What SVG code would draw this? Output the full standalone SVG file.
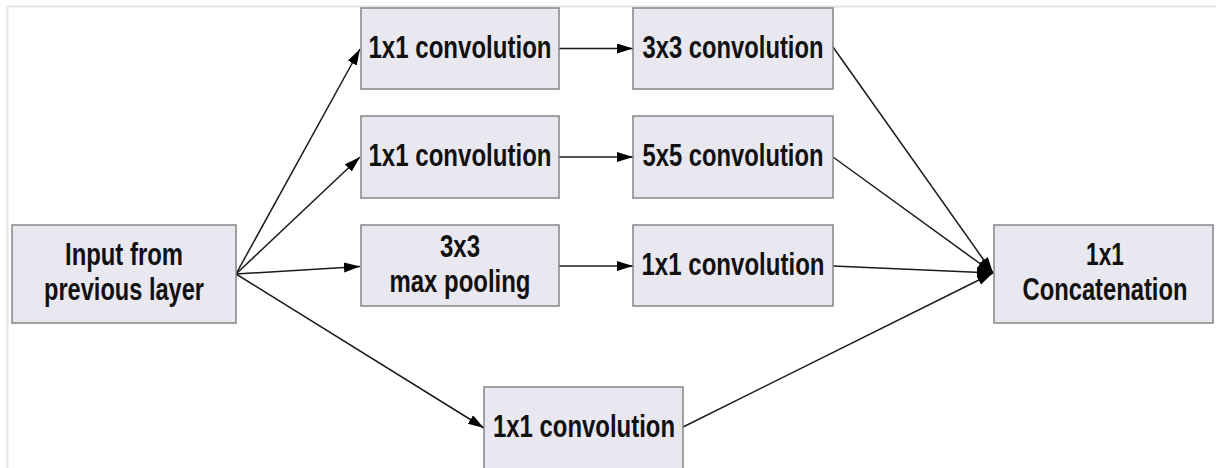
<svg xmlns="http://www.w3.org/2000/svg" width="1216" height="468" viewBox="0 0 1216 468">
<style>
.box{fill:#e9e8f0;stroke:#858585;stroke-width:1.5}
.t{font-family:"Liberation Sans",Arial,sans-serif;font-weight:bold;font-size:31px;fill:#111;text-anchor:middle}
.c{stroke:#1a1a1a;stroke-width:1.5;fill:none;marker-end:url(#ah)}
.frame{stroke:#e4e4e4;stroke-width:2;fill:none}
</style>
<defs>
<marker id="ah" markerUnits="userSpaceOnUse" markerWidth="18" markerHeight="12" refX="16" refY="5" orient="auto">
<path d="M0,0 L16,5 L0,10 z" fill="#000"/>
</marker>
</defs>
<rect width="1216" height="468" fill="#fff"/>
<path class="frame" d="M7.5,468 V6.5 H1216"/>
<g id="connectors">
<line class="c" x1="236" y1="274" x2="360" y2="49"/>
<line class="c" x1="236" y1="274" x2="360" y2="157"/>
<line class="c" x1="236" y1="274" x2="360" y2="266.5"/>
<line class="c" x1="236" y1="274" x2="484" y2="428"/>
<line class="c" x1="559" y1="48.5" x2="633" y2="48.5"/>
<line class="c" x1="559" y1="157" x2="633" y2="157"/>
<line class="c" x1="559" y1="266" x2="633" y2="266"/>
<line class="c" x1="833" y1="47" x2="993" y2="273"/>
<line class="c" x1="833" y1="157" x2="993" y2="273"/>
<line class="c" x1="833" y1="266" x2="993" y2="273"/>
<line class="c" x1="683" y1="427" x2="993" y2="273"/>
</g>
<g id="input">
<rect class="box" x="12" y="225" width="224" height="98"/>
<text class="t" x="124" y="265" textLength="118" lengthAdjust="spacingAndGlyphs">Input from</text>
<text class="t" x="124" y="300" textLength="160" lengthAdjust="spacingAndGlyphs">previous layer</text>
</g>
<g id="conv1x1_a">
<rect class="box" x="361" y="8" width="198" height="81"/>
<text class="t" x="460" y="57.5" textLength="183" lengthAdjust="spacingAndGlyphs">1x1 convolution</text>
</g>
<g id="conv3x3">
<rect class="box" x="633" y="8" width="200" height="81"/>
<text class="t" x="733" y="57.5" textLength="181" lengthAdjust="spacingAndGlyphs">3x3 convolution</text>
</g>
<g id="conv1x1_b">
<rect class="box" x="361" y="116" width="198" height="82"/>
<text class="t" x="460" y="166" textLength="183" lengthAdjust="spacingAndGlyphs">1x1 convolution</text>
</g>
<g id="conv5x5">
<rect class="box" x="633" y="116" width="200" height="82"/>
<text class="t" x="733" y="166" textLength="181" lengthAdjust="spacingAndGlyphs">5x5 convolution</text>
</g>
<g id="maxpool">
<rect class="box" x="361" y="225" width="198" height="81"/>
<text class="t" x="460" y="257" textLength="40" lengthAdjust="spacingAndGlyphs">3x3</text>
<text class="t" x="460" y="292" textLength="141" lengthAdjust="spacingAndGlyphs">max pooling</text>
</g>
<g id="conv1x1_c">
<rect class="box" x="633" y="225" width="200" height="81"/>
<text class="t" x="733" y="274.5" textLength="183" lengthAdjust="spacingAndGlyphs">1x1 convolution</text>
</g>
<g id="conv1x1_d">
<rect class="box" x="484" y="387" width="199" height="90"/>
<text class="t" x="584" y="437" textLength="182" lengthAdjust="spacingAndGlyphs">1x1 convolution</text>
</g>
<g id="concat">
<rect class="box" x="994" y="225" width="219" height="98"/>
<text class="t" x="1105" y="265" textLength="38" lengthAdjust="spacingAndGlyphs">1x1</text>
<text class="t" x="1105" y="300" textLength="165" lengthAdjust="spacingAndGlyphs">Concatenation</text>
</g>
</svg>
